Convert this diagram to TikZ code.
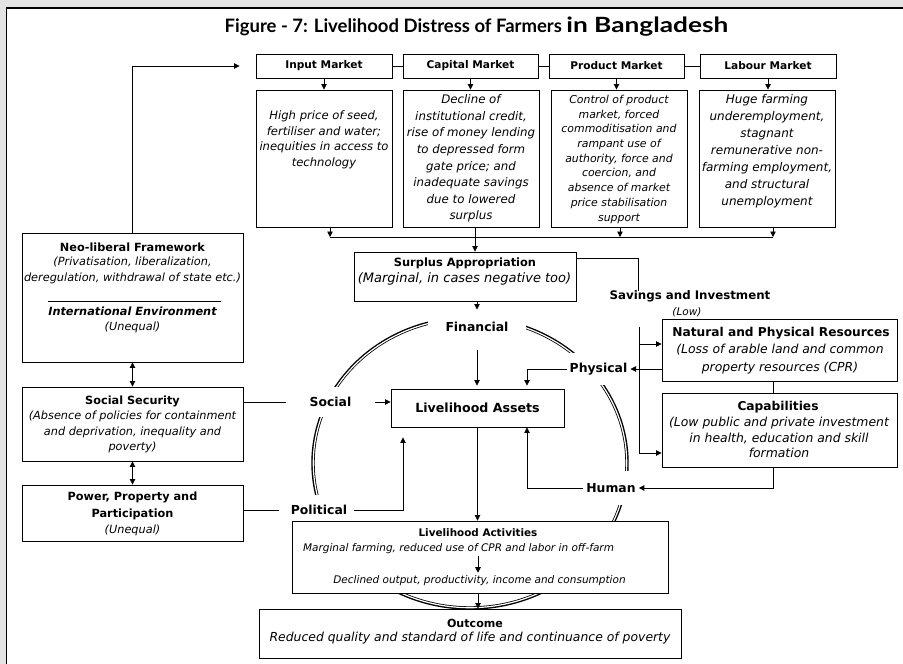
\documentclass[tikz,border=0pt]{standalone}
\usepackage{graphicx}
\usepackage{fontspec}
\setmainfont{DejaVu Sans}
\newfontfamily\titlefont{Lato}
\usetikzlibrary{arrows.meta}
\newcommand\fsz[2]{\fontsize{#1}{#2}\selectfont}
\definecolor{bgg}{HTML}{E3E3E3}
\begin{document}
\begin{tikzpicture}[x=1pt,y=-1pt,
  box/.style={draw, line width=0.9pt, fill=white, inner sep=0pt},
  arr/.style={-{Triangle[length=5.5pt,width=5.5pt]}, line width=0.8pt},
  darr/.style={{Triangle[length=5.5pt,width=5.5pt]}-{Triangle[length=5.5pt,width=5.5pt]}, line width=0.8pt},
  ln/.style={line width=0.8pt},
  txt/.style={inner sep=0pt, align=center},
  mk/.style={box, minimum width=136pt, minimum height=24pt, font=\fsz{10.6}{12}\bfseries},
  lbl/.style={fill=white, inner xsep=3pt, inner ysep=10pt, font=\fsz{12.4}{14}\bfseries},
  ringout/.style={line width=3.4pt},
  ringin/.style={white, line width=1.2pt}
]
\useasboundingbox (0,0) rectangle (903,664);
\fill[bgg] (0,0) rectangle (903,664);
\fill[white] (6.5,8) rectangle (903,664);
\draw[line width=1.6pt] (6.5,664) -- (6.5,8) -- (903,8);

% title
\node[inner sep=0pt, font=\titlefont\bfseries\fsz{18.5}{22}] (title) at (476.5,27) {Figure - 7: Livelihood Distress of Farmers \scalebox{1.25}[1]{\fsz{21}{24}in Bangladesh}};

% ring
\coordinate (cc) at (470,463);
\draw[ringout] (cc) ellipse [x radius=157pt, y radius=145pt];
\draw[ringin] (cc) ellipse [x radius=156.7pt, y radius=144.7pt];

% ring labels
\node[lbl, inner xsep=18pt] (fin) at (477,327) {Financial};
\node[lbl] (soc) at (330.5,402) {Social};
\node[lbl] (phy) at (598.5,369) {Physical};
\node[lbl, inner ysep=12pt] (hum) at (611,488) {Human};
\node[lbl] (pol) at (319,510) {Political};

% market boxes
\node[mk] (inp) at (324,66) {Input Market};
\node[mk, minimum width=135pt] (cap) at (470.5,66) {Capital Market};
\node[mk, minimum width=135pt] (prod) at (616.5,66) {Product Market};
\node[mk] (lab) at (768,66) {Labour Market};
\draw[ln] (inp) -- (cap);
\draw[ln] (cap) -- (prod);
\draw[ln] (prod) -- (lab);

\node[box, minimum width=136pt, minimum height=137pt] (inpd) at (324,158.5) {};
\node[box, minimum width=136pt, minimum height=137pt] (capd) at (471,158.5) {};
\node[box, minimum width=136pt, minimum height=137pt] (prodd) at (619,158.5) {};
\node[box, minimum width=136pt, minimum height=137pt] (labd) at (767,158.5) {};
\draw[arr] (inp) -- (inpd);
\draw[arr] (cap.south) -- (capd.north -| cap.south);
\draw[arr] (prod.south) -- (prodd.north -| prod.south);
\draw[arr] (lab.south) -- (labd.north -| lab.south);

\node[txt, anchor=north, font=\fsz{11.6}{15.6}\itshape] (inpt) at (324,110.5) {High price of seed,\\fertiliser and water;\\inequities in access to\\technology};
\node[txt, anchor=north, font=\fsz{11.8}{16.6}\itshape] (capt) at (471,94.5) {Decline of\\institutional credit,\\rise of money lending\\to depressed form\\gate price; and\\inadequate savings\\due to lowered\\surplus};
\node[txt, anchor=north, font=\fsz{10.9}{14.7}\itshape] (prodt) at (619,95) {Control of product\\market, forced\\commoditisation and\\rampant use of\\authority, force and\\coercion, and\\absence of market\\price stabilisation\\support};
\node[txt, anchor=north, font=\fsz{12}{17}\itshape] (labt) at (767,94) {Huge farming\\underemployment,\\stagnant\\remunerative non-\\farming employment,\\and structural\\unemployment};

% surplus
\node[box, minimum width=222pt, minimum height=49pt] (sa) at (465,276.5) {};
\node[txt, font=\fsz{11.4}{13}\bfseries] (saT) at (465,263) {Surplus Appropriation};
\node[txt, font=\fsz{13}{15}\itshape] (sa1) at (464.5,278.5) {(Marginal, in cases negative too)};

\coordinate (c1) at (330,237);
\coordinate (c2) at (475,237);
\coordinate (c3) at (620,237);
\coordinate (c4) at (773,237);
\draw[ln] (c1) -- (c4);
\draw[arr] (inpd.south -| c1) -- (c1);
\draw[arr] (prodd.south -| c3) -- (c3);
\draw[arr] (labd.south -| c4) -- (c4);
\draw[arr] (capd.south -| c2) -- (sa.north -| c2);

% livelihood assets
\node[box, minimum width=173pt, minimum height=38pt, font=\fsz{12.6}{14}\bfseries] (la) at (477.5,408) {Livelihood Assets};
\coordinate (px) at (527,400);
\coordinate (qx) at (403,400);
\draw[arr, shorten >=2.5pt] (sa.south -| fin) -- (fin.north);
\draw[arr, shorten <=8pt, shorten >=3pt] (fin.south) -- (la.north -| fin);

% left boxes
\node[box, minimum width=221pt, minimum height=129pt] (nl) at (132.5,297.5) {};
\node[txt, font=\fsz{11.3}{13}\bfseries] (nlT) at (132.5,247) {Neo-liberal Framework};
\node[txt, anchor=north, font=\fsz{11.3}{16}\itshape] (nl1) at (132.5,256.5) {(Privatisation, liberalization,\\deregulation, withdrawal of state etc.)};
\coordinate (sepL) at (48,301);
\coordinate (sepR) at (221,301);
\draw[ln] (sepL) -- (sepR);
\node[txt, anchor=north, font=\fsz{11.3}{15}\itshape] (nl2) at (132.5,307) {{\bfseries International Environment}\\(Unequal)};

\node[box, minimum width=221pt, minimum height=74pt] (ss) at (132.5,424) {};
\node[txt, font=\fsz{11.3}{13}\bfseries] (ssT) at (132.5,401) {Social Security};
\node[txt, anchor=north, font=\fsz{11.3}{15.5}\itshape] (ss1) at (132.5,411) {(Absence of policies for containment\\and deprivation, inequality and\\poverty)};

\node[box, minimum width=221pt, minimum height=56pt] (pw) at (132.5,513) {};
\node[txt, anchor=north, font=\fsz{11.3}{16.5}\bfseries] (pwT) at (132.5,492) {Power, Property and\\Participation\\{\normalfont\itshape (Unequal)}};

\draw[arr, shorten >=16pt] (nl.north) |- (inp.west);
\draw[darr] (nl.south) -- (ss.north);
\draw[darr] (ss.south) -- (pw.north);

% right boxes
\node[box, minimum width=235pt, minimum height=62pt] (nat) at (779.5,350) {};
\node[txt, font=\fsz{12.2}{14}\bfseries] (natT) at (781,333) {Natural and Physical Resources};
\node[txt, anchor=north, font=\fsz{12.4}{17.8}\itshape] (nat1) at (780,344) {(Loss of arable land and common\\property resources (CPR)};
\node[box, minimum width=235pt, minimum height=74pt] (cb) at (779.5,430) {};
\node[txt, font=\fsz{12.2}{14}\bfseries] (cbT) at (778,407) {Capabilities};
\node[txt, anchor=north, font=\fsz{12.4}{15.5}\itshape] (cb1) at (779,417) {(Low public and private investment\\in health, education and skill\\formation};
\draw[ln] (nat.south -| c4) -- (cb.north -| c4);

\node[txt, font=\fsz{11.8}{13}\bfseries] (sav) at (690,296) {Savings and Investment};
\node[txt, font=\fsz{10.5}{12}\itshape] (low) at (687,312) {(Low)};
\coordinate (sj) at (638,258);
\coordinate (s1) at (638,291);
\draw[ln] (sa.east |- sj) -- (sj) -- (s1);
\coordinate (v1) at (639,327);
\coordinate (b1) at (639,344);
\coordinate (v2) at (639,453);
\draw[ln] (v1) -- (v2);
\draw[arr] (b1) -- (nat.west |- b1);
\draw[arr] (v2) -- (cb.west |- v2);

% connections to assets
\draw[arr] (nat.west |- phy) -- (phy.east);
\draw[arr, shorten >=3pt] (phy.west) -| (la.north -| px);
\draw[arr] (cb.south -| c4) |- (hum.east);
\draw[arr] (hum.west) -| (la.south -| px);
\draw[ln, shorten >=9pt] (pw.east |- pol) -- (pol.west);
\draw[arr, shorten <=4pt, shorten >=10pt] (pol.east) -| (la.south -| qx);
\draw[ln, shorten >=20pt] (ss.east |- soc) -- (soc.west);
\draw[arr, shorten <=20pt] (soc.east) -- (la.west |- soc);

% activities
\node[box, minimum width=376pt, minimum height=72pt] (act) at (480,557) {};
\node[txt, font=\fsz{10.4}{12}\bfseries] (actT) at (478,533) {Livelihood Activities};
\node[txt, font=\fsz{10.5}{12}\itshape] (act1) at (458.5,549) {Marginal farming, reduced use of CPR and labor in off-farm};
\node[txt, font=\fsz{10.5}{12}\itshape] (act2) at (479.5,581) {Declined output, productivity, income and consumption};
\draw[arr] (la.south) -- (act.north -| la.south);
\draw[arr, shorten <=1.5pt, shorten >=3pt] (act1.south -| actT) -- (act2.north -| actT);

% outcome
\node[box, minimum width=422pt, minimum height=49pt] (oc) at (470,633.5) {};
\node[txt, font=\fsz{11.1}{13}\bfseries] (ocT) at (475,623) {Outcome};
\node[txt, font=\fsz{12.4}{14}\itshape] (oc1) at (470,638) {Reduced quality and standard of life and continuance of poverty};
\draw[arr] (act.south -| actT) -- (oc.north -| actT);
\end{tikzpicture}
\end{document}
